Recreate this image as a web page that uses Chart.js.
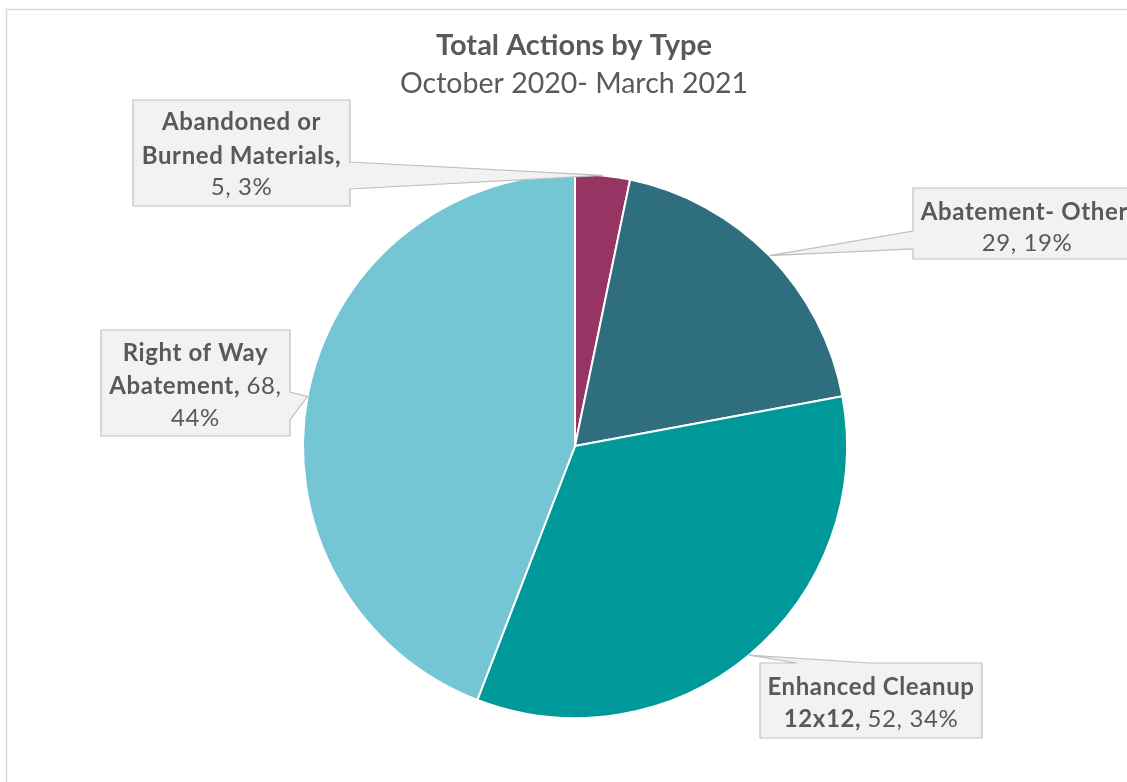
<!DOCTYPE html>
<html>
<head>
<meta charset="utf-8">
<script src="https://cdn.jsdelivr.net/npm/chart.js@4/dist/chart.umd.min.js"></script>
<style>
    body { margin: 0; background: #fff; }
    canvas { display: block; }
</style>
</head>
<body>
<canvas id="pieChart" width="1127" height="782"></canvas>
<script>
// Chart data
const categories = ['Abandoned or Burned Materials', 'Abatement- Other', 'Enhanced Cleanup 12x12', 'Right of Way Abatement'];
const actionCounts = [5, 29, 52, 68];
const sliceColors = ['#963464', '#2e6e7e', '#009999', '#75c6d4'];
const titleText = 'Total Actions by Type';
const subtitleText = 'October 2020- March 2021';

// Callout layout (box, wedge side, words per line)
const callouts = [
    { x: 133, y: 100, w: 217, h: 106, side: 'right', p0: 162, p1: 189, wrap: [2, 2, 2], rows: [122, 156, 187] },
    { x: 913, y: 188, w: 228, h: 71, side: 'left', p0: 231, p1: 249, wrap: [2, 2], rows: [212, 243] },
    { x: 760, y: 663, w: 222, h: 75, side: 'top', p0: 797, p1: 870, wrap: [2, 3], rows: [687, 719] },
    { x: 101, y: 330, w: 189, h: 106, side: 'right', p0: 392, p1: 420, wrap: [3, 2, 1], rows: [353, 386, 418] }
];

const FONT = 'Lato, "Open Sans", sans-serif';
const TEXT_COLOR = '#595959';

function calloutPath(ctx, b, tip) {
    ctx.beginPath();
    ctx.moveTo(b.x, b.y);
    if (b.side === 'top') {
        ctx.lineTo(b.p0, b.y);
        ctx.lineTo(tip.x, tip.y);
        ctx.lineTo(b.p1, b.y);
    }
    ctx.lineTo(b.x + b.w, b.y);
    if (b.side === 'right') {
        ctx.lineTo(b.x + b.w, b.p0);
        ctx.lineTo(tip.x, tip.y);
        ctx.lineTo(b.x + b.w, b.p1);
    }
    ctx.lineTo(b.x + b.w, b.y + b.h);
    ctx.lineTo(b.x, b.y + b.h);
    if (b.side === 'left') {
        ctx.lineTo(b.x, b.p1);
        ctx.lineTo(tip.x, tip.y);
        ctx.lineTo(b.x, b.p0);
    }
    ctx.closePath();
}

const calloutPlugin = {
    id: 'callouts',
    beforeDraw(chart) {
        const ctx = chart.ctx;
        ctx.save();
        ctx.strokeStyle = '#d9d9d9';
        ctx.lineWidth = 1.5;
        ctx.strokeRect(6.5, 9.5, 1200, 900);

        ctx.fillStyle = TEXT_COLOR;
        ctx.textAlign = 'center';
        ctx.textBaseline = 'middle';
        ctx.font = 'bold 29px ' + FONT;
        ctx.fillText(titleText, 574, 46);
        ctx.font = '28.5px ' + FONT;
        ctx.fillText(subtitleText, 574, 84);
        ctx.restore();
    },
    afterDatasetsDraw(chart) {
        const ctx = chart.ctx;
        const meta = chart.getDatasetMeta(0);
        const values = chart.data.datasets[0].data;
        const total = values.reduce((a, b) => a + b, 0);

        ctx.save();
        meta.data.forEach((arc, i) => {
            const b = callouts[i];
            const mid = (arc.startAngle + arc.endAngle) / 2;
            const tip = {
                x: arc.x + Math.cos(mid) * arc.outerRadius,
                y: arc.y + Math.sin(mid) * arc.outerRadius
            };

            calloutPath(ctx, b, tip);
            ctx.fillStyle = '#f2f2f2';
            ctx.fill();
            ctx.strokeStyle = '#bfbfbf';
            ctx.lineWidth = 1.2;
            ctx.stroke();

            // words: category part bold, numbers normal
            const catWords = (chart.data.labels[i] + ',').split(' ');
            const pct = Math.round(values[i] / total * 100);
            const words = catWords.map(t => ({ t, bold: true }))
                .concat([{ t: values[i] + ',', bold: false }, { t: pct + '%', bold: false }]);

            let k = 0;
            const cx = b.x + b.w / 2;
            ctx.letterSpacing = '0.6px';
            b.wrap.forEach((n, row) => {
                const segs = words.slice(k, k + n);
                k += n;
                const fonts = segs.map(s => (s.bold ? 'bold ' : '') + '24px ' + FONT);
                const widths = segs.map((s, j) => {
                    ctx.font = fonts[j];
                    return ctx.measureText(s.t + (j < segs.length - 1 ? ' ' : '')).width;
                });
                let x = cx - widths.reduce((a, c) => a + c, 0) / 2;
                ctx.fillStyle = TEXT_COLOR;
                ctx.textAlign = 'left';
                ctx.textBaseline = 'middle';
                segs.forEach((s, j) => {
                    ctx.font = fonts[j];
                    ctx.fillText(s.t, x, b.rows[row]);
                    x += widths[j];
                });
            });
            ctx.letterSpacing = '0px';
        });
        ctx.restore();
    }
};

const ctx = document.getElementById('pieChart').getContext('2d');
new Chart(ctx, {
    type: 'pie',
    data: {
        labels: categories,
        datasets: [{
            data: actionCounts,
            backgroundColor: sliceColors,
            borderColor: '#ffffff',
            borderWidth: 2
        }]
    },
    options: {
        responsive: false,
        devicePixelRatio: 1,
        animation: false,
        layout: {
            padding: { top: 173, bottom: 63, left: 302, right: 279 }
        },
        plugins: {
            legend: { display: false },
            tooltip: { enabled: false }
        }
    },
    plugins: [calloutPlugin]
});
</script>
</body>
</html>
